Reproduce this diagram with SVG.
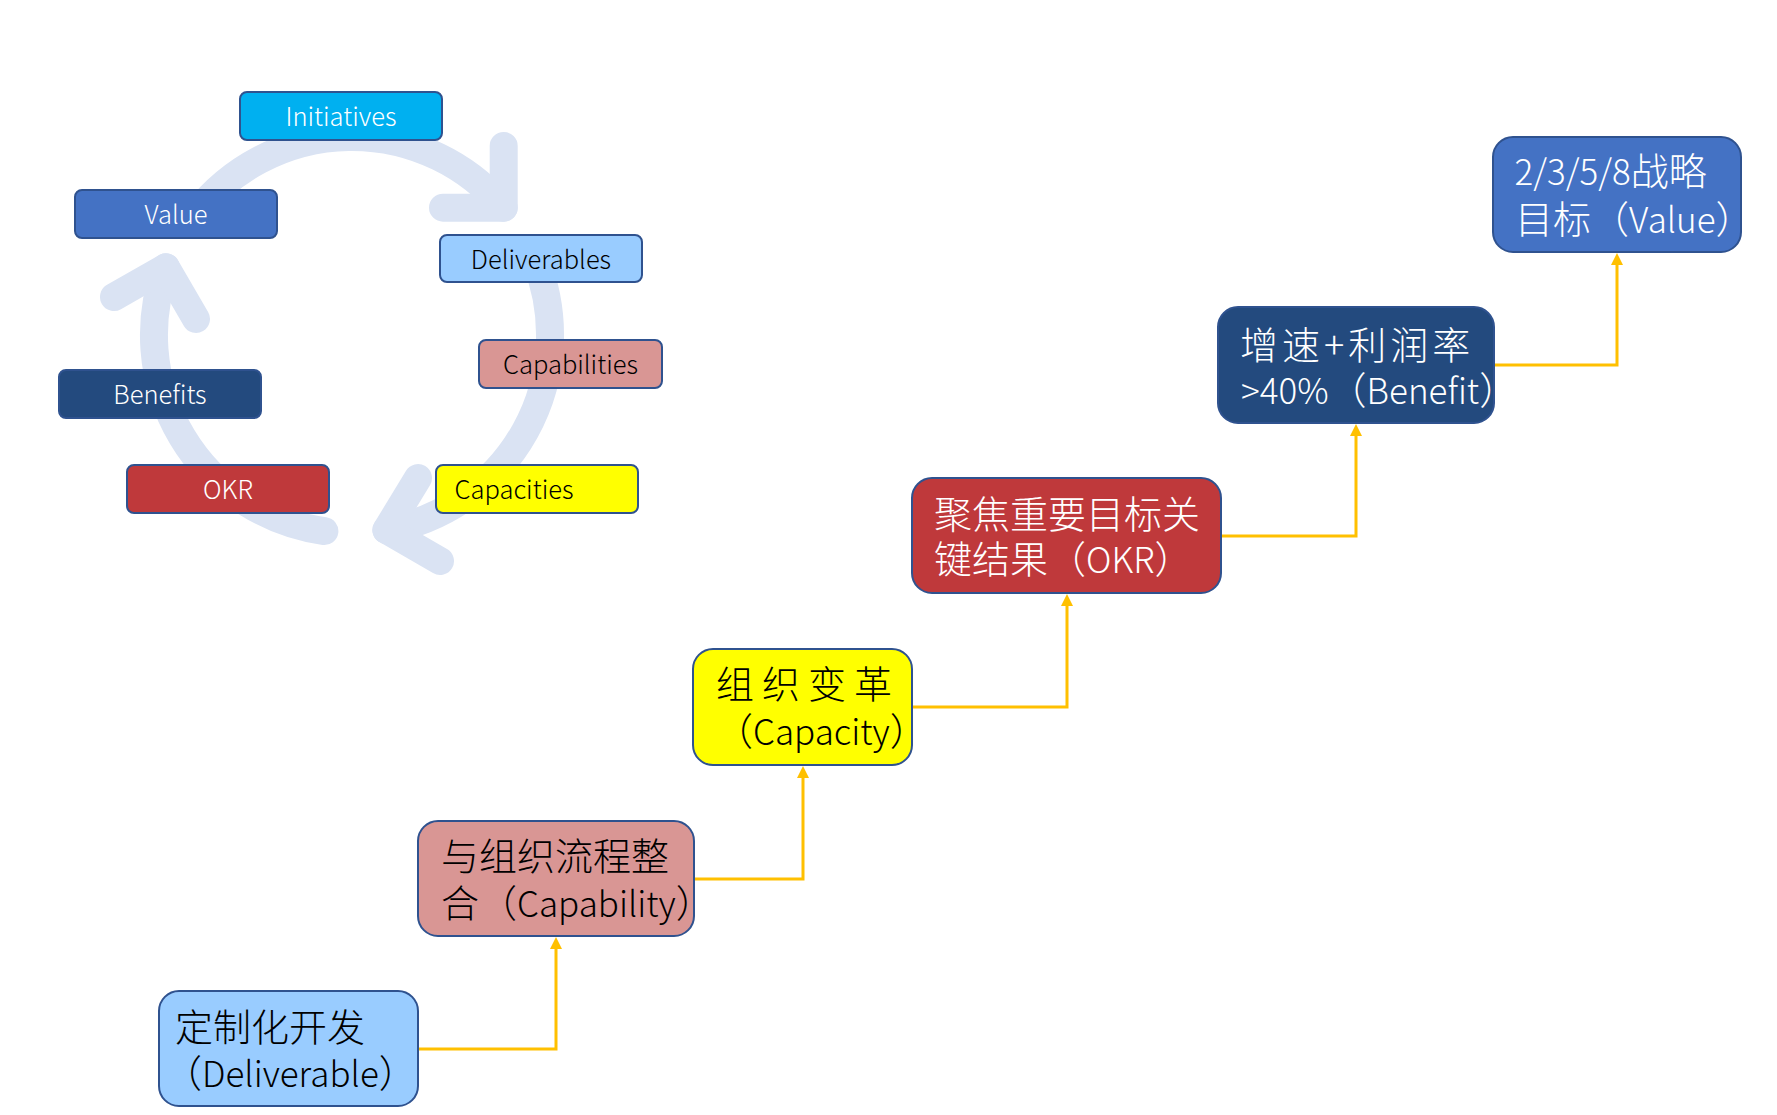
<svg xmlns="http://www.w3.org/2000/svg" width="1777" height="1115" viewBox="0 0 1777 1115">
<style>
  text { font-family: "Noto Sans CJK SC", "Noto Sans", sans-serif; font-weight: 300; }
  .box { stroke: #2F528F; stroke-width: 2; }
  .sm { font-size: 25.5px; }
  .bg { font-size: 38px; }
  .lt { font-size: 35px; }
  .w { fill: #FFFFFF; }
  .k { fill: #000000; }
  .c { text-anchor: middle; }
  .ring { fill: none; stroke: #DAE3F3; stroke-width: 28; stroke-linecap: round; stroke-linejoin: round; }
  .conn { fill: none; stroke: #FFC000; stroke-width: 3; }
</style>
<defs>
  <marker id="arr" markerUnits="userSpaceOnUse" viewBox="0 0 12 12" markerWidth="12" markerHeight="12" refX="0" refY="6" orient="auto">
    <path d="M0,0 L12,6 L0,12 z" fill="#FFC000"/>
  </marker>
</defs>
<rect width="1777" height="1115" fill="#FFFFFF"/>

<g id="cycle-arrows">
  <path class="ring" d="M196,213.1 A198,198 0 0 1 503.7,207.7"/>
  <path class="ring" d="M503.7,146 L503.7,207.7 L443,207.7"/>
  <path class="ring" d="M535.6,260.8 A198,198 0 0 1 386.4,530"/>
  <path class="ring" d="M418,478 L386.4,530 L440,561"/>
  <path class="ring" d="M324.4,531.1 A198,198 0 0 1 165.9,267.3"/>
  <path class="ring" d="M114,297 L165.9,267.3 L196,319"/>
</g>

<g id="n-initiatives">
  <rect class="box" x="240" y="92" width="202" height="48" rx="7" fill="#00B0F0"/>
  <text class="sm w c" x="341" y="126">Initiatives</text>
</g>
<g id="n-value-s">
  <rect class="box" x="75" y="190" width="202" height="48" rx="7" fill="#4472C4"/>
  <text class="sm w c" x="176" y="224">Value</text>
</g>
<g id="n-deliverables">
  <rect class="box" x="440" y="235" width="202" height="47" rx="7" fill="#99CCFF"/>
  <text class="sm k c" x="541" y="269">Deliverables</text>
</g>
<g id="n-capabilities">
  <rect class="box" x="479" y="340" width="183" height="48" rx="7" fill="#D99694"/>
  <text class="sm k c" x="570.5" y="374">Capabilities</text>
</g>
<g id="n-benefits">
  <rect class="box" x="59" y="370" width="202" height="48" rx="7" fill="#234A7E"/>
  <text class="sm w c" x="160" y="404">Benefits</text>
</g>
<g id="n-okr-s">
  <rect class="box" x="127" y="465" width="202" height="48" rx="7" fill="#BF393B"/>
  <text class="sm w c" x="228" y="499">OKR</text>
</g>
<g id="n-capacities">
  <rect class="box" x="436" y="465" width="202" height="48" rx="7" fill="#FFFF00"/>
  <text class="sm k" x="454.5" y="499">Capacities</text>
</g>

<g id="connectors">
  <path class="conn" d="M418,1049 H556 V949" marker-end="url(#arr)"/>
  <path class="conn" d="M694,879 H803 V778" marker-end="url(#arr)"/>
  <path class="conn" d="M912,707 H1067 V606" marker-end="url(#arr)"/>
  <path class="conn" d="M1221,536 H1356 V436" marker-end="url(#arr)"/>
  <path class="conn" d="M1494,365 H1617 V265" marker-end="url(#arr)"/>
</g>

<g id="n-deliverable">
  <rect class="box" x="159" y="991" width="259" height="115" rx="20" fill="#99CCFF"/>
  <text class="bg k" x="175" y="1041">定制化开发</text>
  <text class="bg k" x="164" y="1087">（<tspan class="lt">Deliverable</tspan>）</text>
</g>
<g id="n-capability">
  <rect class="box" x="418" y="821" width="276" height="115" rx="20" fill="#D99694"/>
  <text class="bg k" x="441" y="870">与组织流程整</text>
  <text class="bg k" x="441" y="917">合（<tspan class="lt">Capability</tspan>）</text>
</g>
<g id="n-capacity">
  <rect class="box" x="693" y="649" width="219" height="116" rx="20" fill="#FFFF00"/>
  <text class="bg k" x="716" y="698" letter-spacing="8">组织变革</text>
  <text class="bg k" x="715" y="745">（<tspan class="lt">Capacity</tspan>）</text>
</g>
<g id="n-okr">
  <rect class="box" x="912" y="478" width="309" height="115" rx="20" fill="#BF393B"/>
  <text class="bg w" x="934" y="528">聚焦重要目标关</text>
  <text class="bg w" x="934" y="573">键结果（<tspan class="lt">OKR</tspan>）</text>
</g>
<g id="n-benefit">
  <rect class="box" x="1218" y="307" width="276" height="116" rx="20" fill="#234A7E"/>
  <text class="bg w" x="1240" y="359" letter-spacing="4">增速+利润率</text>
  <text class="bg w" x="1241" y="404"><tspan class="lt">&gt;40%</tspan>（<tspan class="lt">Benefit</tspan>）</text>
</g>
<g id="n-value">
  <rect class="box" x="1493" y="137" width="248" height="115" rx="20" fill="#4472C4"/>
  <text class="bg w" x="1514.5" y="185"><tspan class="lt">2/3/5/8</tspan>战略</text>
  <text class="bg w" x="1515" y="233">目标（<tspan class="lt">Value</tspan>）</text>
</g>
</svg>
